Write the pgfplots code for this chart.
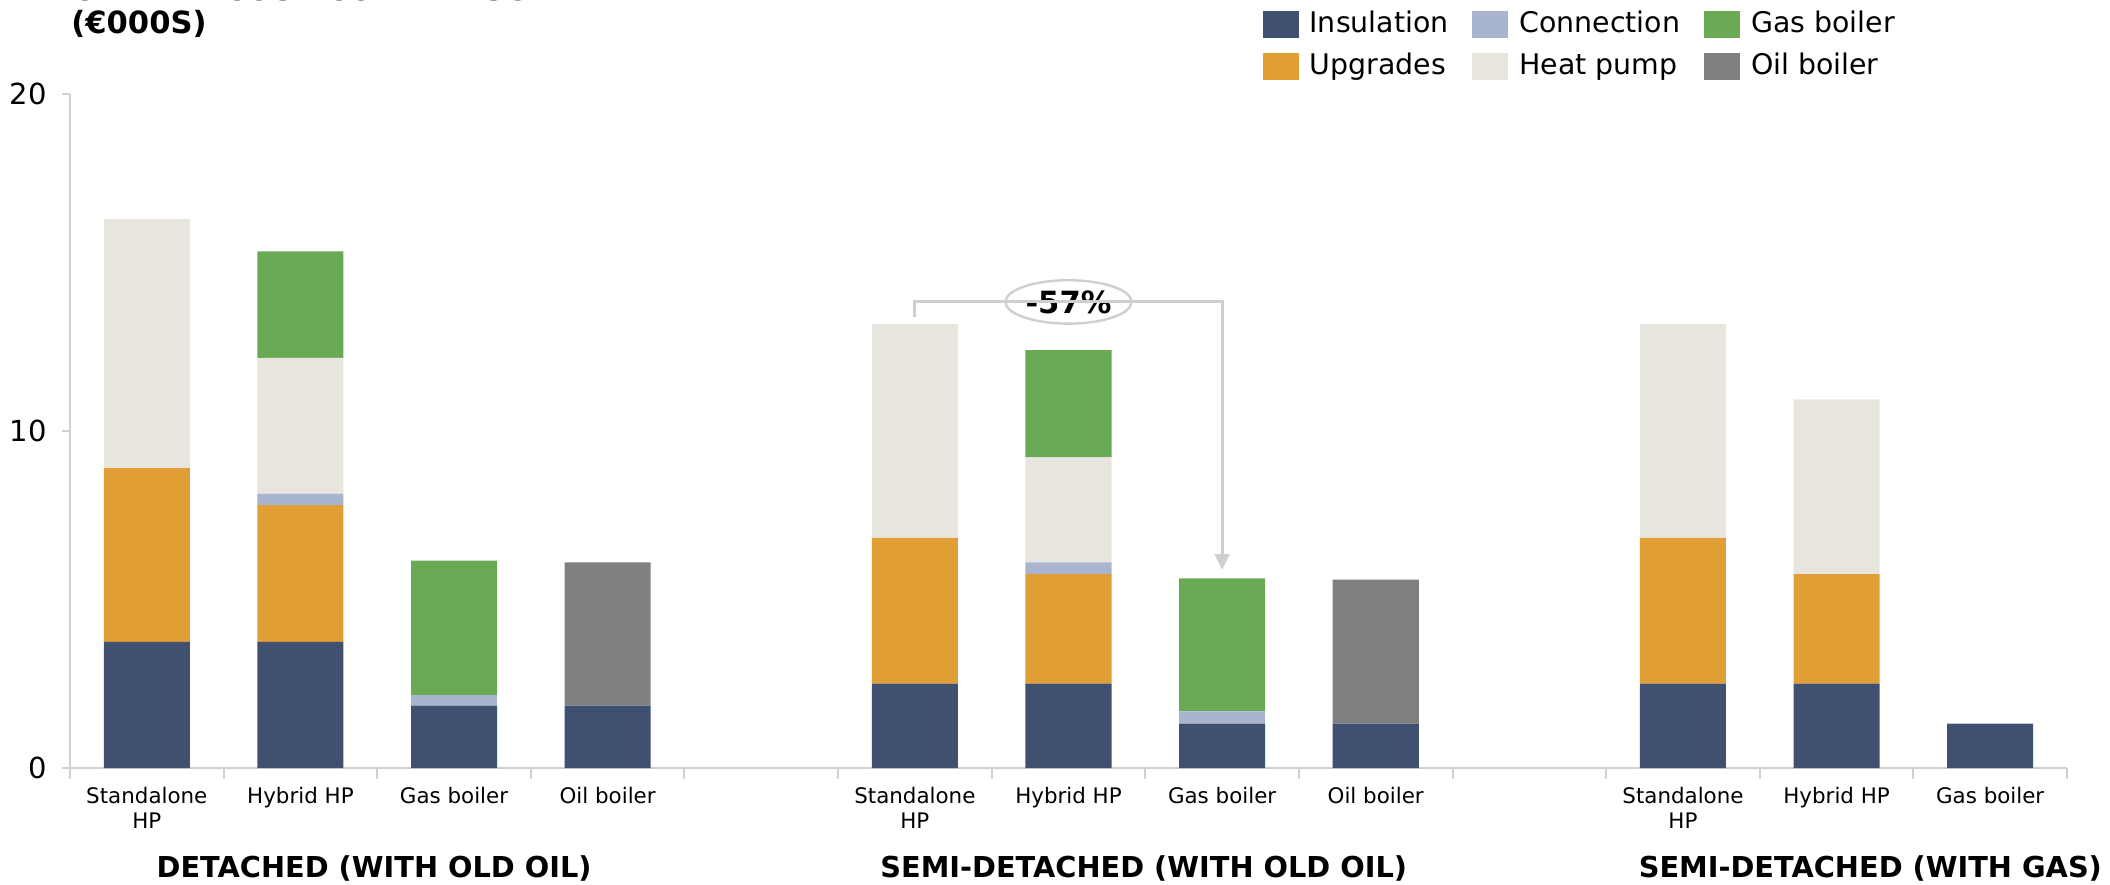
\documentclass[border=0pt]{standalone}
\usepackage{fontspec}
\setmainfont{DejaVu Sans}
\usepackage{pgfplots}
\pgfplotsset{compat=1.18}
\usepackage{pgfplotstable}
\usetikzlibrary{arrows.meta,shapes.geometric}
\definecolor{cIns}{HTML}{3F5070}
\definecolor{cUpg}{HTML}{E19E35}
\definecolor{cCon}{HTML}{A9B5CE}
\definecolor{cHP}{HTML}{E8E5DE}
\definecolor{cGas}{HTML}{6AAA55}
\definecolor{cOil}{HTML}{808080}
\definecolor{cAx}{HTML}{D0D0D0}
\definecolor{cAnn}{HTML}{CFCFCF}
\pgfplotstableread{
x  ins  upg  con  hp   gas  oil
0  3.74 5.16 0    7.39 0    0
1  3.74 4.06 0.34 4.03 3.16 0
2  1.85 0    0.31 0    3.99 0
3  1.85 0    0    0    0    4.25
5  2.50 4.33 0    6.34 0    0
6  2.50 3.25 0.35 3.12 3.18 0
7  1.32 0    0.36 0    3.95 0
8  1.32 0    0    0    0    4.27
10 2.50 4.33 0    6.34 0    0
11 2.50 3.25 0    5.19 0    0
12 1.32 0    0    0    0    0
}\costdata
\begin{document}
\begin{tikzpicture}
\begin{axis}[
  at={(35pt,58pt)}, anchor=south west,
  width=998.5pt, height=337pt, scale only axis,
  ybar stacked, bar width=0.56,
  xmin=-0.5, xmax=12.5, ymin=0, ymax=20,
  axis x line*=bottom, axis y line*=left,
  axis line style={cAx, line width=1pt, -},
  clip=false,
  xtick={0,1,2,3,5,6,7,8,10,11,12},
  xticklabels={{Standalone\\HP},{Hybrid HP},{Gas boiler},{Oil boiler},{Standalone\\HP},{Hybrid HP},{Gas boiler},{Oil boiler},{Standalone\\HP},{Hybrid HP},{Gas boiler}},
  major x tick style={draw=none},
  minor xtick={-0.5,0.5,...,12.5},
  minor x tick style={cAx, line width=1pt},
  minor tick length=5.5pt,
  tick align=outside,
  ytick={0,10,20},
  major tick length=4pt,
  y tick style={cAx, line width=1pt},
  xticklabel style={align=center, font=\fontsize{10.7}{12.5}\selectfont, inner ysep=0pt, yshift=-5.2pt},
  yticklabel style={font=\fontsize{14.5}{16}\selectfont, inner xsep=0pt, xshift=-7.5pt},
  /pgf/number format/assume math mode=true,
  legend columns=3,
  legend cell align=left,
  legend style={at={(0.594,1.129)}, anchor=north west, draw=none, fill=none,
    font=\fontsize{14.2}{17}\selectfont,
    nodes={inner xsep=0pt, inner ysep=0pt, text height=10.5pt, text depth=3pt},
    row sep=7.5pt,
    /tikz/every odd column/.append style={column sep=5.5pt},
    /tikz/every even column/.append style={column sep=12pt}},
  legend image code/.code={\fill[#1, draw=none] (0pt,-6.75pt) rectangle (18pt,6.75pt);},
]
\addlegendimage{fill=cIns, draw=none}\addlegendentry{Insulation}
\addlegendimage{fill=cCon, draw=none}\addlegendentry{Connection}
\addlegendimage{fill=cGas, draw=none}\addlegendentry{Gas boiler}
\addlegendimage{fill=cUpg, draw=none}\addlegendentry{Upgrades}
\addlegendimage{fill=cHP, draw=none}\addlegendentry{Heat pump}
\addlegendimage{fill=cOil, draw=none}\addlegendentry{Oil boiler}
\addplot[fill=cIns, draw=none, forget plot] table[x=x, y=ins] {\costdata};
\addplot[fill=cUpg, draw=none, forget plot] table[x=x, y=upg] {\costdata};
\addplot[fill=cCon, draw=none, forget plot] table[x=x, y=con] {\costdata};
\addplot[fill=cHP, draw=none, forget plot] table[x=x, y=hp] {\costdata};
\addplot[fill=cGas, draw=none, forget plot] table[x=x, y=gas] {\costdata};
\addplot[fill=cOil, draw=none, forget plot] table[x=x, y=oil] {\costdata};
\draw[cAnn, line width=1.5pt, -{Triangle[width=7.5pt,length=8pt]}] (axis cs:5,13.38) |- (axis cs:7,13.83) -- (axis cs:7,5.88);
\node[ellipse, draw=cAnn, line width=1.2pt, fill=white, minimum width=63pt, minimum height=21.7pt, inner sep=0pt, font=\bfseries\fontsize{15.3}{18}\selectfont] at (axis cs:6,13.83) {-57\%};
\node[font=\bfseries\fontsize{14.4}{17}\selectfont] at (axis cs:1.48,0) [yshift=-50pt] {DETACHED (WITH OLD OIL)};
\node[font=\bfseries\fontsize{14.4}{17}\selectfont] at (axis cs:6.49,0) [yshift=-50pt] {SEMI-DETACHED (WITH OLD OIL)};
\node[font=\bfseries\fontsize{14.4}{17}\selectfont] at (axis cs:11.22,0) [yshift=-50pt] {SEMI-DETACHED (WITH GAS)};
\end{axis}
\node[anchor=base west, inner sep=0pt, font=\bfseries\fontsize{15.3}{18}\selectfont] at (35.5pt,441.5pt) {CAPITAL COST COMPARISON};
\node[anchor=base west, inner sep=0pt, font=\bfseries\fontsize{15.3}{18}\selectfont] at (35.5pt,425pt) {(€000S)};
\pgfresetboundingbox
\useasboundingbox (0,0) rectangle (1055pt,442pt);
\end{tikzpicture}
\end{document}
